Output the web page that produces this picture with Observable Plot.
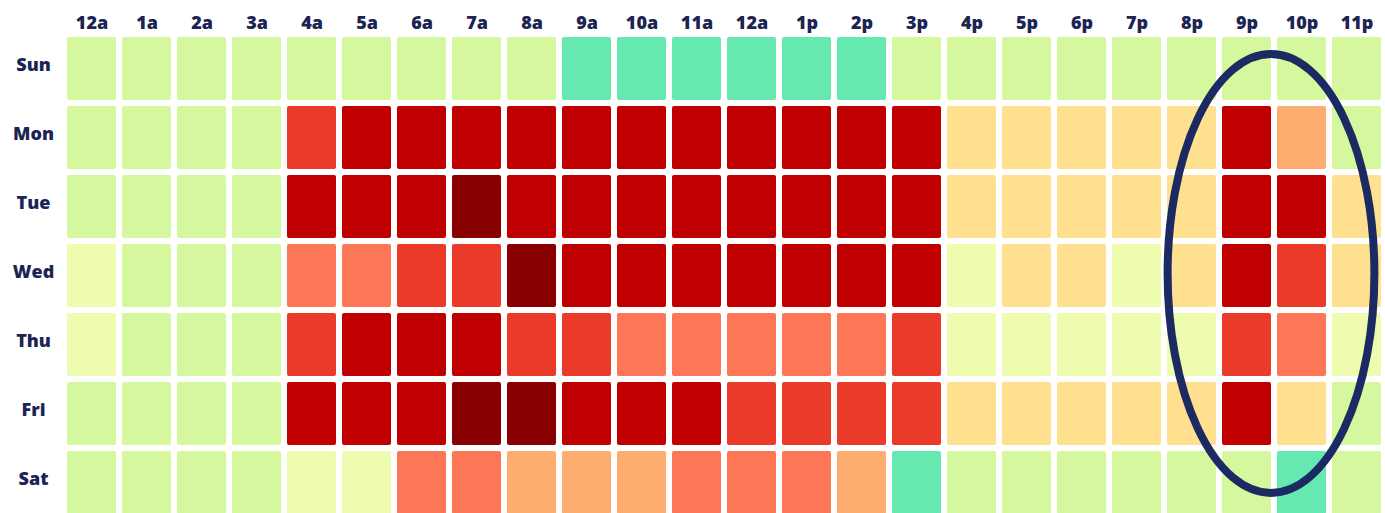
<!DOCTYPE html>
<html>
<head>
<meta charset="utf-8">
<script src="https://cdn.jsdelivr.net/npm/d3@7"></script>
<script src="https://cdn.jsdelivr.net/npm/@observablehq/plot@0.6"></script>
<style>
  html, body { margin: 0; padding: 0; background: #ffffff; }
  #chart { width: 1385px; height: 513px; overflow: hidden; }
</style>
</head>
<body>
<div id="chart"></div>
<script>
const hourLabels = ["12a","1a","2a","3a","4a","5a","6a","7a","8a","9a","10a","11a","12a","1p","2p","3p","4p","5p","6p","7p","8p","9p","10p","11p"];
const days = ["Sun","Mon","Tue","Wed","Thu","Fri","Sat"];

// activity level per hour (0 = lowest/teal ... 8 = highest/dark red)
const sun = [1,1,1,1,1,1,1,1,1,0,0,0,0,0,0,1,1,1,1,1,1,1,1,1];
const mon = [1,1,1,1,6,7,7,7,7,7,7,7,7,7,7,7,3,3,3,3,3,7,4,1];
const tue = [1,1,1,1,7,7,7,8,7,7,7,7,7,7,7,7,3,3,3,3,3,7,7,3];
const wed = [2,1,1,1,5,5,6,6,8,7,7,7,7,7,7,7,2,3,3,2,3,7,6,3];
const thu = [2,1,1,1,6,7,7,7,6,6,5,5,5,5,5,6,2,2,2,2,2,6,5,2];
const fri = [1,1,1,1,7,7,7,8,8,7,7,7,6,6,6,6,3,3,3,3,3,7,3,1];
const sat = [1,1,1,1,2,2,5,5,4,4,4,5,5,5,4,0,1,1,1,1,1,1,0,1];

const levels = [0,1,2,3,4,5,6,7,8];
const palette = ["#66e9b0","#d5f89e","#eefcaf","#fee08e","#fdad70","#fd7655","#e93a2a","#c00000","#880000"];

const rows = [sun, mon, tue, wed, thu, fri, sat];
const data = [];
rows.forEach((vals, di) => {
  vals.forEach((v, hi) => data.push({day: days[di], hour: hi, level: v}));
});

const textColor = "#1c2453";
const font = "'Open Sans', 'DejaVu Sans', sans-serif";

const plot = Plot.plot({
  width: 1385,
  height: 513,
  marginLeft: 64,
  marginRight: 1,
  marginTop: 33,
  marginBottom: -4,
  style: {fontFamily: font, background: "#ffffff"},
  x: {domain: hourLabels.map((_, i) => i), paddingInner: 0.11, paddingOuter: 0.055, axis: null},
  y: {domain: days, paddingInner: 0.087, paddingOuter: 0.0435, axis: null},
  color: {type: "ordinal", domain: levels, range: palette},
  marks: [
    Plot.cell(data, {x: "hour", y: "day", fill: "level", rx: 2}),
    Plot.axisX({anchor: "top", tickSize: 0, tickPadding: 5, tickFormat: i => hourLabels[i],
      fontSize: 18, fontWeight: 800, fill: textColor, label: null}),
    Plot.axisY({anchor: "left", tickSize: 0, tickPadding: 31, textAnchor: "middle", dy: -4,
      fontSize: 18, fontWeight: 800, fill: textColor, label: null})
  ]
});

// highlight ellipse around the 9p / 10p columns, positioned via the plot's scales
const sx = plot.scale("x");
const sy = plot.scale("y");
const cx = (sx.apply(21) + sx.bandwidth + sx.apply(22)) / 2 - 3;
const cy = sy.apply("Wed") + sy.bandwidth / 2 - 2;
const rxE = (sx.apply(23) - sx.apply(21)) * 0.94;
const ryE = (sy.apply("Sat") - sy.apply("Sun")) * 0.53;
d3.select(plot).append("ellipse")
  .attr("cx", cx).attr("cy", cy).attr("rx", rxE).attr("ry", ryE)
  .attr("fill", "none").attr("stroke", "#1b2a63").attr("stroke-width", 8);

document.getElementById("chart").appendChild(plot);
</script>
</body>
</html>
